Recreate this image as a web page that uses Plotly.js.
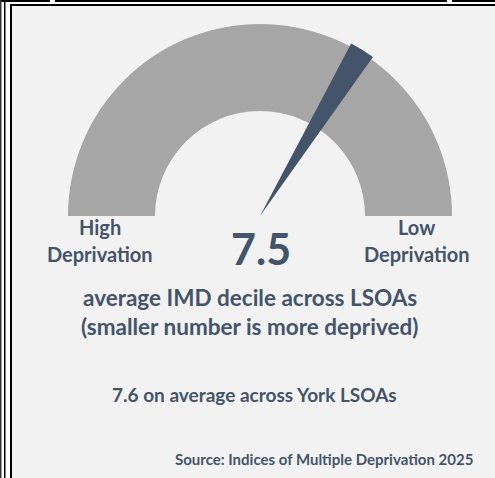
<!DOCTYPE html>
<html>
<head>
<meta charset="utf-8">
<script src="https://cdn.plot.ly/plotly-3.0.1.min.js"></script>
<style>
  html, body { margin: 0; padding: 0; background: #f2f2f2; }
  #chart { width: 495px; height: 478px; }
</style>
</head>
<body>
<div id="chart"></div>
<script>
// Average IMD decile for the area and the York-wide comparison
const areaDecile = [7.5];
const yorkDecile = [7.6];
const endLabels = ['High', 'Deprivation', 'Low', 'Deprivation'];
const subtitleLines = ['average IMD decile across LSOAs', '(smaller number is more deprived)'];
const sourceText = 'Source: Indices of Multiple Deprivation 2025';

// Gauge scale: the half ring runs from gaugeMin (left) to gaugeMax (right)
const gaugeMin = 0;
const gaugeMax = 11.1;
const span = gaugeMax - gaugeMin;

const W = 495, H = 478;
const NAVY = '#44546a';
const RING = '#a6a6a6';
const CLEAR = 'rgba(0,0,0,0)';
const FONT = 'Lato, "Open Sans", sans-serif';

// pixel helpers -> paper coordinates
const px = x => x / W;
const py = y => 1 - y / H;

// ring geometry (pixels)
const cx = 260, cy = 216, rOuter = 192, rInner = 105, rNeedle = 195;
const needleDeg = 7.5;                       // angular width of the pointer wedge
const needleWidth = needleDeg / 180 * span;  // same width in scale units

const v = areaDecile[0];
const needleStart = (v - gaugeMin) - needleWidth / 2;

const ring = {
  type: 'pie',
  values: [span, span],
  marker: { colors: [RING, CLEAR], line: { width: 0 } },
  hole: rInner / rOuter,
  sort: false,
  direction: 'clockwise',
  rotation: -90,
  textinfo: 'none',
  hoverinfo: 'skip',
  showlegend: false,
  domain: { x: [px(cx - rOuter), px(cx + rOuter)], y: [py(cy + rOuter), py(cy - rOuter)] }
};

const needle = {
  type: 'pie',
  values: [needleStart, needleWidth, 2 * span - needleStart - needleWidth],
  marker: { colors: [CLEAR, NAVY, CLEAR], line: { width: 0 } },
  sort: false,
  direction: 'clockwise',
  rotation: -90,
  textinfo: 'none',
  hoverinfo: 'skip',
  showlegend: false,
  domain: { x: [px(cx - rNeedle), px(cx + rNeedle)], y: [py(cy + rNeedle), py(cy - rNeedle)] }
};

function label(text, x, y, size, anchor) {
  return {
    text: text, xref: 'paper', yref: 'paper', x: px(x), y: py(y),
    xanchor: anchor || 'center', yanchor: 'middle', showarrow: false,
    font: { family: FONT, size: size, color: NAVY, weight: 700 }
  };
}

const annotations = [
  label(endLabels[0], 100, 227, 20),
  label(endLabels[1], 100, 254, 20),
  label(endLabels[2], 416, 227, 20),
  label(endLabels[3], 416.5, 254, 20),
  label(v.toFixed(1), 261, 248, 43),
  label(subtitleLines[0], 250, 297, 22.5),
  label(subtitleLines[1], 249, 326, 22.5),
  label(yorkDecile[0].toFixed(1) + ' on average across York LSOAs', 254.5, 394.5, 19),
  label(sourceText, 475, 458.5, 15, 'right')
];

// frame lines along the top and left edges
function bar(x0, y0, x1, y1, color) {
  return { type: 'rect', xref: 'paper', yref: 'paper', layer: 'above',
           x0: px(x0), x1: px(x1), y0: py(y1), y1: py(y0),
           fillcolor: color, line: { width: 0 } };
}
const shapes = [
  bar(0, 0, 11, H, '#ffffff'),
  bar(0, 0, W, 5, '#ffffff'),
  bar(0, 0, 50, 2, '#000000'),
  bar(55, 0, 447, 2, '#000000'),
  bar(452, 0, W, 2, '#000000'),
  bar(0, 0, 1.5, H, '#333333'),
  bar(4, 1, 5.5, H, '#000000'),
  bar(10, 4, W, 6, '#000000'),
  bar(10, 4, 12, H, '#000000')
];

const layout = {
  width: W, height: H,
  margin: { l: 0, r: 0, t: 0, b: 0, pad: 0 },
  paper_bgcolor: '#f2f2f2',
  plot_bgcolor: '#f2f2f2',
  showlegend: false,
  annotations: annotations,
  shapes: shapes
};

Plotly.newPlot('chart', [ring, needle], layout, { displayModeBar: false, staticPlot: true });
</script>
</body>
</html>
